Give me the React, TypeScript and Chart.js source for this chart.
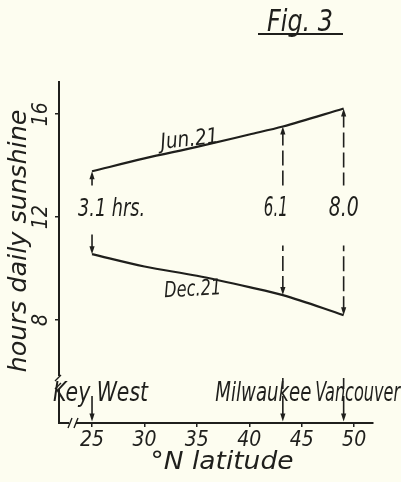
import React, { useEffect, useRef } from "react";
import { Chart, registerables } from "chart.js";

Chart.register(...registerables);

// ---- data ----
const latitudes = [25, 30, 35, 40, 43.2, 49];
const june21Hours = [13.78, 14.28, 14.73, 15.21, 15.52, 16.22];
const december21Hours = [10.56, 10.08, 9.72, 9.28, 8.97, 8.19];
const seriesNames = ["Jun.21", "Dec.21"];
const xTickValues = [25, 30, 35, 40, 45, 50];
const yTickValues = [8, 12, 16];
const places = ["Key West", "Milwaukee", "Vancouver"];
const placeLatitudes = [25, 43.2, 49];
const differenceLabels = ["3.1 hrs.", "6.1", "8.0"];
const figureTitle = "Fig. 3";
const yAxisTitle = "hours daily sunshine";
const xAxisTitle = "°N latitude";

// ---- style ----
const INK = "#1f1f1c";
const PAPER = "#fdfdf0";
const FONT = "'DejaVu Sans Condensed', 'Liberation Sans Narrow', 'DejaVu Sans', sans-serif";

function fitText(
  ctx: CanvasRenderingContext2D,
  text: string,
  x: number,
  y: number,
  size: number,
  width: number,
  angle = 0,
  baseline: CanvasTextBaseline = "middle"
) {
  ctx.save();
  ctx.translate(x, y);
  if (angle) ctx.rotate((angle * Math.PI) / 180);
  ctx.font = `italic ${size}px ${FONT}`;
  ctx.textAlign = "center";
  ctx.textBaseline = baseline;
  const w = ctx.measureText(text).width;
  if (width && w > 0) ctx.scale(width / w, 1);
  ctx.fillStyle = INK;
  ctx.fillText(text, 0, 0);
  ctx.restore();
}

function arrow(ctx: CanvasRenderingContext2D, x: number, yFrom: number, yTo: number, dashed: boolean) {
  const dir = Math.sign(yTo - yFrom) || 1;
  const head = 8;
  ctx.save();
  ctx.strokeStyle = INK;
  ctx.fillStyle = INK;
  ctx.lineWidth = 1.6;
  ctx.setLineDash(dashed ? [15, 5] : []);
  ctx.beginPath();
  ctx.moveTo(x, yTo - dir * head * 0.5);
  ctx.lineTo(x, yFrom);
  ctx.stroke();
  ctx.setLineDash([]);
  ctx.beginPath();
  ctx.moveTo(x, yTo);
  ctx.lineTo(x - 2.6, yTo - dir * head);
  ctx.lineTo(x + 2.6, yTo - dir * head);
  ctx.closePath();
  ctx.fill();
  ctx.restore();
}

function hoursAt(series: number[], lat: number) {
  const i = latitudes.indexOf(lat);
  return series[i];
}

const annotate = {
  id: "annotate",
  beforeDraw(chart: any) {
    const { ctx, width, height } = chart;
    ctx.save();
    ctx.fillStyle = PAPER;
    ctx.fillRect(0, 0, width, height);
    ctx.restore();
  },
  afterDraw(chart: any) {
    const { ctx, chartArea: a } = chart;
    const xs = chart.scales.x;
    const ys = chart.scales.y;

    // axis breaks
    ctx.save();
    ctx.fillStyle = PAPER;
    ctx.fillRect(a.left - 3, a.bottom - 47, 6, 13);
    ctx.fillRect(a.left + 10, a.bottom - 3, 7, 6);
    ctx.strokeStyle = INK;
    ctx.lineWidth = 1.4;
    ctx.beginPath();
    for (const dy of [-45, -37]) {
      ctx.moveTo(a.left - 4, a.bottom + dy + 3);
      ctx.lineTo(a.left + 2, a.bottom + dy - 3);
    }
    for (const dx of [9, 15]) {
      ctx.moveTo(a.left + dx, a.bottom + 5);
      ctx.lineTo(a.left + dx + 4, a.bottom - 5);
    }
    ctx.stroke();
    ctx.restore();

    // difference arrows and labels
    const labelY = ys.getPixelForValue(12.3);
    const labelOffsets = [19.5, -7, 0];
    const labelWidths = [67, 24, 30];
    const labelSizes = [24, 26, 26];
    placeLatitudes.forEach((lat, i) => {
      const px = xs.getPixelForValue(lat);
      const jun = ys.getPixelForValue(hoursAt(june21Hours, lat));
      const dec = ys.getPixelForValue(hoursAt(december21Hours, lat));
      const dashed = i > 0;
      arrow(ctx, px, labelY - 24, jun, dashed);
      arrow(ctx, px, labelY + (i === 0 ? 25 : 36), dec, dashed);
      fitText(ctx, differenceLabels[i], px + labelOffsets[i], labelY, labelSizes[i], labelWidths[i]);
    });

    // place labels and arrows to the latitude axis
    const placeOffsets = [8.5, -19.5, 14];
    const placeWidths = [95, 96, 85];
    placeLatitudes.forEach((lat, i) => {
      const px = xs.getPixelForValue(lat);
      if (i > 0) {
        ctx.save();
        ctx.strokeStyle = INK;
        ctx.lineWidth = 1.6;
        ctx.beginPath();
        ctx.moveTo(px, a.bottom - 45);
        ctx.lineTo(px, a.bottom - 34);
        ctx.stroke();
        ctx.restore();
      }
      arrow(ctx, px, a.bottom - 27, a.bottom - 1.5, false);
      fitText(ctx, places[i], px + placeOffsets[i], a.bottom - 29, 26, placeWidths[i]);
    });

    // series labels
    fitText(ctx, seriesNames[0], xs.getPixelForValue(34.3), ys.getPixelForValue(14.99), 22, 58, -6);
    fitText(ctx, seriesNames[1], xs.getPixelForValue(34.6), ys.getPixelForValue(9.165), 22, 57, -3);

    // axis titles
    fitText(ctx, yAxisTitle, 20, 241, 24, 263, -90);
    fitText(ctx, xAxisTitle, 222, 463, 24, 143);

    // figure title
    fitText(ctx, figureTitle, 300, 31, 30, 66, 0, "alphabetic");
    ctx.save();
    ctx.strokeStyle = INK;
    ctx.lineWidth = 2;
    ctx.beginPath();
    ctx.moveTo(258, 34);
    ctx.lineTo(343, 34);
    ctx.stroke();
    ctx.restore();
  },
};

export default function App() {
  const ref = useRef<HTMLCanvasElement>(null);

  useEffect(() => {
    const canvas = ref.current;
    if (!canvas) return;
    const line = (series: number[]) => latitudes.map((lat, i) => ({ x: lat, y: series[i] }));
    const chart = new Chart(canvas, {
      type: "line",
      data: {
        datasets: [
          {
            label: seriesNames[0],
            data: line(june21Hours),
            borderColor: INK,
            borderWidth: 2.2,
            pointRadius: 0,
            cubicInterpolationMode: "monotone",
            fill: false,
          },
          {
            label: seriesNames[1],
            data: line(december21Hours),
            borderColor: INK,
            borderWidth: 2.2,
            pointRadius: 0,
            cubicInterpolationMode: "monotone",
            fill: false,
          },
        ],
      },
      options: {
        responsive: false,
        animation: false,
        devicePixelRatio: 1,
        layout: { padding: { top: 82, right: 28, left: 0, bottom: 0 } },
        plugins: {
          legend: { display: false },
          tooltip: { enabled: false },
        },
        scales: {
          x: {
            type: "linear",
            min: 21.85,
            max: 51.8,
            afterBuildTicks: (s: any) => {
              s.ticks = xTickValues.map((v) => ({ value: v }));
            },
            afterFit: (s: any) => {
              s.height = 59;
            },
            grid: { display: true, drawOnChartArea: false, drawTicks: true, tickLength: 4, color: INK, lineWidth: 1.5 },
            border: { display: true, color: INK, width: 2 },
            ticks: {
              color: INK,
              autoSkip: false,
              maxRotation: 0,
              padding: 1,
              font: { family: FONT, size: 21, style: "italic" },
              callback: (v: any) => String(v),
            },
          },
          y: {
            type: "linear",
            min: 4,
            max: 17.25,
            afterBuildTicks: (s: any) => {
              s.ticks = yTickValues.map((v) => ({ value: v }));
            },
            afterFit: (s: any) => {
              s.width = 59;
            },
            grid: { display: true, drawOnChartArea: false, drawTicks: true, tickLength: 4, color: INK, lineWidth: 1.5 },
            border: { display: true, color: INK, width: 2 },
            ticks: {
              color: INK,
              minRotation: 90,
              maxRotation: 90,
              crossAlign: "center",
              padding: 1,
              font: { family: FONT, size: 21, style: "italic" },
              callback: (v: any) => String(v),
            },
          },
        },
      },
      plugins: [annotate],
    } as any);
    return () => chart.destroy();
  }, []);

  return (
    <div style={{ position: "fixed", left: 0, top: 0, width: 401, height: 482, background: PAPER }}>
      <canvas ref={ref} width={401} height={482} style={{ display: "block", width: 401, height: 482 }} />
    </div>
  );
}
